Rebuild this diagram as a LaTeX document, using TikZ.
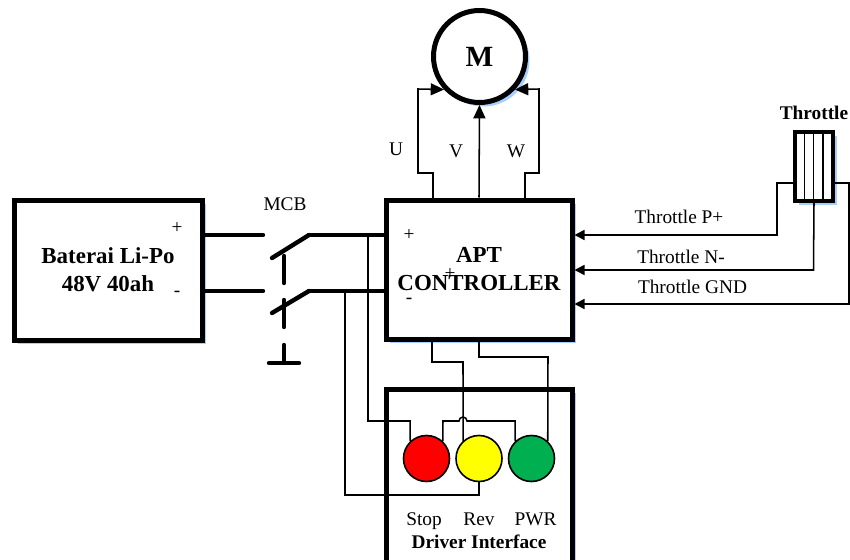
\documentclass[tikz,border=0pt]{standalone}
\usepackage{fontspec}
\setmainfont{Liberation Serif}
\usetikzlibrary{arrows.meta,shadows}
\definecolor{lampyellow}{RGB}{255,255,0}
\definecolor{lampred}{RGB}{255,0,0}
\definecolor{lampgreen}{RGB}{0,176,80}
\tikzset{%
	block/.style    = {draw, line width = 3.75pt, rectangle, fill = white, inner sep = 0pt,
		font = \fontsize{17.2}{21}\selectfont\bfseries, align = center,
		drop shadow = {shadow xshift = 3pt, shadow yshift = -3pt, fill = blue!55!cyan, opacity = .35}},
	lamp/.style     = {draw, line width = 1.2pt, circle, minimum size = 34.5pt, inner sep = 0pt},
	label/.style    = {font = \fontsize{14.5}{17}\selectfont, inner sep = 0pt, anchor = base},
	title/.style    = {label, font = \fontsize{14.5}{17}\selectfont\bfseries},
	wire/.style     = {line width = 1.15pt},
	arrow/.style    = {wire, -{Triangle[length = 7.5pt, width = 7.5pt]}},
	phase/.style    = {wire, -{Triangle[length = 10pt, width = 9pt]}},
	power/.style    = {line width = 3.3pt, line cap = round}
}
\begin{document}
\begin{tikzpicture}[x=0.75pt,y=-0.75pt]
	\useasboundingbox (0,0) rectangle (850,560);

	% boxes
	\node[block, minimum width = 141pt, minimum height = 105pt] (batt) at (108,270) {Baterai Li-Po\\48V 40ah};
	\node[block, minimum width = 139.5pt, minimum height = 104.25pt] (apt) at (479,269.5) {APT\\CONTROLLER};
	\node[block, minimum width = 139.5pt, minimum height = 130.5pt] (driver) at (479,476) {};
	\node[block, circle, minimum size = 69pt, font = \fontsize{22}{26}\selectfont\bfseries] (motor) at (479.5,56.5) {M};
	\node[block, minimum width = 28.5pt, minimum height = 51.75pt, line width = 2.6pt] (thr) at (814,166.5) {};

	% throttle strips
	\draw[wire] (804.5,132) -- (804.5,201) (813.5,132) -- (813.5,201) (823,132) -- (823,201);

	% lamps
	\node[lamp, fill = lampred] (stop) at (426.5,458.5) {};
	\node[lamp, fill = lampyellow] (rev) at (479,458.5) {};
	\node[lamp, fill = lampgreen] (pwr) at (531.5,458.5) {};

	% terminals
	\coordinate (battp) at (batt.east |- 0,235);
	\coordinate (battn) at (batt.east |- 0,291);
	\coordinate (aptp) at (apt.west |- 0,235);
	\coordinate (aptn) at (apt.west |- 0,291);
	\coordinate (mcbpa) at (263,235);
	\coordinate (mcbpb) at (309,235);
	\coordinate (mcbna) at (263,291);
	\coordinate (mcbnb) at (309,291);
	\coordinate (tapp) at (368,235);
	\coordinate (tapn) at (345,291);
	\coordinate (aptu) at (433,200);
	\coordinate (aptw) at (525,200);
	\coordinate (aptrev) at (432,341);
	\coordinate (aptpwr) at (479,341);
	\coordinate (thrp) at (795,183);
	\coordinate (thrg) at (833,183);
	\coordinate (inp) at (apt.east |- 0,235);
	\coordinate (inn) at (apt.east |- 0,270);
	\coordinate (ing) at (apt.east |- 0,304);

	% main circuit and breaker
	\draw[power] (battp) -- (mcbpa);
	\draw[power] (battn) -- (mcbna);
	\draw[power] (mcbpb) -- (aptp);
	\draw[power] (mcbnb) -- (aptn);
	\draw[power] (272,258) -- (mcbpb);
	\draw[power] (272,313) -- (mcbnb);
	\draw[power] (284,256) -- (284,283);
	\draw[power] (284,300) -- (284,327);
	\draw[power] (284,345) -- (284,363);
	\draw[power] (269,363) -- (299,363);

	% motor phases
	\draw[phase] (aptu) -- (433,173) -- (418,173) -- (418,89) -- (motor.223);
	\draw[phase] (apt.north) -- (motor.south);
	\draw[phase] (aptw) -- (525,173) -- (539,173) -- (539,89) -- (motor.317);

	% throttle lines
	\draw[arrow] (thrp) -- (777,183) -- (777,235) -- (inp);
	\draw[arrow] (thr.south) -- (813.5,270) -- (inn);
	\draw[arrow] (thrg) -- (849,183) -- (849,304) -- (ing);

	% driver interface lines
	\draw[wire] (tapp) -- (368,421) -- (410,421) -- (stop.133);
	\draw[wire] (stop.47) -- (443,421) -- (459,421) arc[start angle = 180, end angle = 360, radius = 4] -- (515,421) -- (pwr.133);
	\draw[wire] (aptrev) -- (432,362) -- (463,362) -- (rev.132);
	\draw[wire] (aptpwr) -- (479,357) -- (548,357) -- (pwr.47);
	\draw[wire] (tapn) -- (345,495) -- (479,495) -- (rev.south);

	% labels
	\node[label] (mcb) at (285,210) {MCB};
	\node[label] (u) at (396,155) {U};
	\node[label] (v) at (456,157) {V};
	\node[label] (w) at (516,157) {W};
	\node[title] (thrname) at (814,119) {Throttle};
	\node[label] (pplus) at (679,223) {Throttle P+};
	\node[label] (nminus) at (681,263) {Throttle N-};
	\node[label] (gnd) at (692.5,293) {Throttle GND};
	\node[label] (battplus) at (177,233) {+};
	\node[label] (battminus) at (177,296) {-};
	\node[label] (aptplus) at (409,240) {+};
	\node[label] (aptplusb) at (450,279) {+};
	\node[label] (aptminus) at (409,303) {-};
	\node[label] (stopname) at (424,525) {Stop};
	\node[label] (revname) at (479,525) {Rev};
	\node[label] (pwrname) at (535.5,525) {PWR};
	\node[title] (drvname) at (479,548) {Driver Interface};
\end{tikzpicture}
\end{document}
